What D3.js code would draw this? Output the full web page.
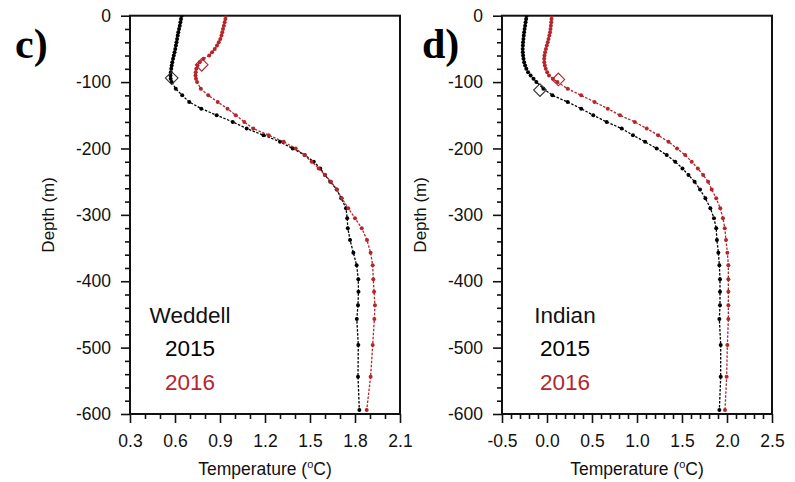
<!DOCTYPE html>
<html>
<head>
<meta charset="utf-8">
<script src="https://cdn.jsdelivr.net/npm/d3@7"></script>
<style>
  html, body { margin: 0; padding: 0; background: #fff; }
  svg { display: block; font-family: "Liberation Sans", Arial, Helvetica, sans-serif; }
</style>
</head>
<body>
<svg id="chart" width="795" height="482"></svg>
<script>
// Depth levels (m, positive downward)
const depths = [0,5,10,15,20,25,30,35,40,45,50,55,60,65,70,75,80,85,90,95,100,
  110,120,130,140,150,160,170,180,190,200,210,220,230,240,250,262,275,290,305,320,
  338,357,376,397,416,436,457,496,544,594];

// Weddell temperature profiles (°C)
const weddell2015 = [0.645,0.640,0.636,0.632,0.627,0.622,0.618,0.614,0.610,0.606,0.602,0.597,0.592,0.587,0.582,0.578,0.575,0.572,0.570,0.571,0.578,
  0.605,0.648,0.695,0.775,0.878,0.985,1.078,1.190,1.300,1.385,1.465,1.525,1.568,1.600,1.635,1.678,1.708,1.740,1.748,1.752,
  1.767,1.789,1.811,1.822,1.823,1.820,1.812,1.822,1.820,1.829];
const weddell2016 = [0.940,0.936,0.931,0.926,0.920,0.915,0.910,0.902,0.892,0.880,0.865,0.847,0.828,0.790,0.765,0.750,0.742,0.738,0.737,0.740,0.747,
  0.772,0.822,0.885,0.950,1.005,1.062,1.122,1.225,1.325,1.405,1.463,1.511,1.558,1.600,1.640,1.678,1.712,1.755,1.800,1.845,
  1.880,1.904,1.918,1.922,1.927,1.933,1.929,1.918,1.904,1.878];

// Indian sector temperature profiles (°C)
const indian2015 = [-0.226,-0.232,-0.238,-0.243,-0.249,-0.254,-0.258,-0.262,-0.266,-0.268,-0.270,-0.269,-0.266,-0.261,-0.254,-0.243,-0.230,-0.210,-0.182,-0.150,-0.118,
  -0.040,0.060,0.230,0.380,0.514,0.663,0.830,0.955,1.090,1.219,1.330,1.425,1.505,1.572,1.640,1.700,1.760,1.815,1.855,1.880,
  1.888,1.904,1.915,1.922,1.922,1.922,1.915,1.930,1.930,1.915];
const indian2016 = [0.052,0.050,0.047,0.043,0.039,0.034,0.026,0.017,0.008,-0.002,-0.012,-0.021,-0.028,-0.031,-0.030,-0.024,-0.014,0.002,0.022,0.065,0.115,
  0.230,0.380,0.528,0.675,0.811,0.975,1.108,1.235,1.350,1.445,1.535,1.608,1.676,1.735,1.790,1.830,1.880,1.925,1.955,1.975,
  1.989,2.004,2.015,2.015,2.015,2.015,2.015,2.004,1.996,1.978];

// Mixed-layer depth markers: [temperature, depth]
const weddellMld2015 = [0.578, 94];
const weddellMld2016 = [0.778, 74];
const indianMld2015 = [-0.078, 112];
const indianMld2016 = [0.126, 96];

// Axis ticks
const depthTicks = [0, -100, -200, -300, -400, -500, -600];
const weddellTempTicks = [0.3, 0.6, 0.9, 1.2, 1.5, 1.8, 2.1];
const indianTempTicks = [-0.5, 0.0, 0.5, 1.0, 1.5, 2.0, 2.5];

const years = ["2015", "2016"];
const colors = ["#000000", "#b5262b"];

const svg = d3.select("#chart");

function panel(opt) {
  const x = d3.scaleLinear().domain(opt.xDomain).range([opt.left, opt.right]);
  const y = d3.scaleLinear().domain([0, -600]).range([15.7, 414]);
  const g = svg.append("g");
  const clipId = "clip-" + opt.letter;

  g.append("clipPath").attr("id", clipId).append("rect")
    .attr("x", opt.left).attr("y", y(0)).attr("width", opt.right - opt.left).attr("height", y(-600) - y(0));

  // minor ticks
  const yMinor = d3.range(0, -601, -20).filter(v => v % 100 !== 0);
  const xMinor = d3.range(Math.round(opt.xDomain[0] * 10), Math.round(opt.xDomain[1] * 10) + 1)
    .map(v => v / 10).filter(v => !opt.xTicks.some(t => Math.abs(t - v) < 1e-6));

  const yAxis = d3.axisLeft(y).tickValues(depthTicks).tickSize(9).tickPadding(10);
  const yAxisG = g.append("g").attr("transform", `translate(${opt.left},0)`).call(yAxis);
  yAxisG.selectAll(".tick text").style("font-size", "17.5px").style("font-family", "Liberation Sans, Arial, sans-serif")
    .attr("fill", "#111").text(d => String(d));
  g.append("g").attr("transform", `translate(${opt.left},0)`)
    .call(d3.axisLeft(y).tickValues(yMinor).tickSize(5).tickFormat(""));

  const xAxis = d3.axisBottom(x).tickValues(opt.xTicks).tickSize(9).tickPadding(12);
  const xAxisG = g.append("g").attr("transform", `translate(0,${y(-600)})`).call(xAxis);
  xAxisG.selectAll(".tick text").style("font-size", "17.5px").style("font-family", "Liberation Sans, Arial, sans-serif")
    .attr("fill", "#111").text(d => d.toFixed(1));
  g.append("g").attr("transform", `translate(0,${y(-600)})`)
    .call(d3.axisBottom(x).tickValues(xMinor).tickSize(5).tickFormat(""));

  g.selectAll(".domain").remove();
  g.selectAll(".tick line").attr("stroke", "#111").attr("stroke-width", 1.6);

  // frame
  g.append("rect").attr("x", opt.left).attr("y", y(0))
    .attr("width", opt.right - opt.left).attr("height", y(-600) - y(0))
    .attr("fill", "none").attr("stroke", "#111").attr("stroke-width", 2);

  // profiles
  const plot = g.append("g").attr("clip-path", `url(#${clipId})`);
  const line = d3.line().x(d => x(d[0])).y(d => y(-d[1]));
  opt.series.forEach((vals, i) => {
    const pts = vals.map((v, k) => [v, depths[k]]);
    plot.append("path").datum(pts).attr("d", line)
      .attr("fill", "none").attr("stroke", colors[i]).attr("stroke-width", 1.3)
      .attr("stroke-dasharray", "2.5,1.5");
    plot.selectAll(null).data(pts).enter().append("circle")
      .attr("cx", d => x(d[0])).attr("cy", d => y(-d[1])).attr("r", 2.0)
      .attr("fill", colors[i]);
  });

  // mixed-layer depth markers
  const diamond = d3.symbol().type(d3.symbolSquare).size(80);
  opt.mld.forEach((m, i) => {
    plot.append("path").attr("d", diamond())
      .attr("transform", `translate(${x(m[0])},${y(-m[1])}) rotate(45)`)
      .attr("fill", "none").attr("stroke", i === 0 ? "#333" : colors[1]).attr("stroke-width", 1.1);
  });

  // axis titles
  const tt = g.append("text").attr("x", (opt.left + opt.right) / 2).attr("y", 475)
    .attr("text-anchor", "middle").style("font-size", "17.5px").attr("fill", "#111");
  tt.append("tspan").text("Temperature (");
  tt.append("tspan").text("o").style("font-size", "11px").attr("dy", -7);
  tt.append("tspan").text("C)").attr("dy", 7);

  g.append("text").attr("transform", `translate(${opt.left - 76},${(y(0) + y(-600)) / 2}) rotate(-90)`)
    .attr("text-anchor", "middle").style("font-size", "17px").attr("fill", "#111").text("Depth (m)");

  // panel letter
  g.append("text").attr("x", opt.letterX).attr("y", 58)
    .style("font-family", "'Liberation Serif', 'Times New Roman', serif").style("font-weight", "bold")
    .style("font-size", "42px").attr("fill", "#000").text(opt.letter + ")");

  // legend
  const lx = opt.legendX;
  g.append("text").attr("x", lx).attr("y", 323).attr("text-anchor", "middle")
    .style("font-size", "22.5px").attr("fill", "#111").text(opt.region);
  years.forEach((yr, i) => {
    g.append("text").attr("x", lx).attr("y", 356 + i * 34).attr("text-anchor", "middle")
      .style("font-size", "22.5px").attr("fill", colors[i]).text(yr);
  });
}

panel({
  letter: "c", letterX: 15, region: "Weddell", legendX: 190,
  left: 130, right: 400, xDomain: [0.3, 2.1], xTicks: weddellTempTicks,
  series: [weddell2015, weddell2016], mld: [weddellMld2015, weddellMld2016]
});
panel({
  letter: "d", letterX: 422, region: "Indian", legendX: 565,
  left: 502, right: 772, xDomain: [-0.5, 2.5], xTicks: indianTempTicks,
  series: [indian2015, indian2016], mld: [indianMld2015, indianMld2016]
});
</script>
</body>
</html>
